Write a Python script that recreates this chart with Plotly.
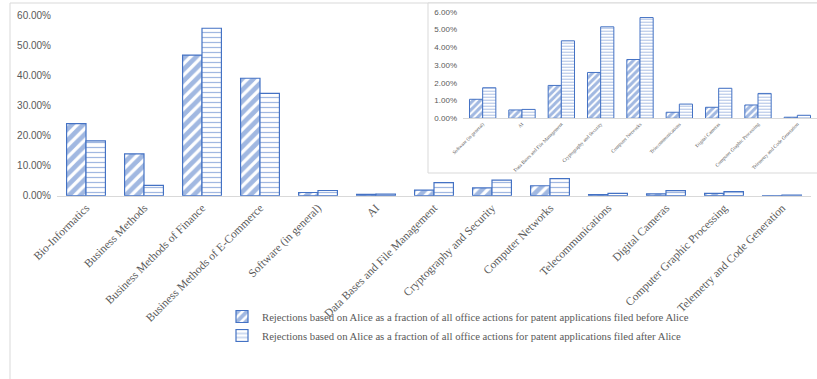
import plotly.graph_objects as go

W, H = 817, 379

categories = [
    "Bio-Informatics", "Business Methods", "Business Methods of Finance",
    "Business Methods of E-Commerce", "Software (in general)", "AI",
    "Data Bases and File Management", "Cryptography and Security",
    "Computer Networks", "Telecommunications", "Digital Cameras",
    "Computer Graphic Processing", "Telemetry and Code Generation",
]
# values in percent
before_alice = [23.9, 13.9, 46.7, 39.0, 1.07, 0.47, 1.85, 2.58, 3.31, 0.34, 0.62, 0.75, 0.06]
after_alice = [18.2, 3.45, 55.6, 34.0, 1.72, 0.50, 4.36, 5.15, 5.67, 0.80, 1.69, 1.40, 0.17]
inset_categories = categories[4:]
inset_before = before_alice[4:]
inset_after = after_alice[4:]

name_before = "Rejections based on Alice as a fraction of all office actions for patent applications filed before Alice"
name_after = "Rejections based on Alice as a fraction of all office actions for patent applications filed after Alice"

BLUE = "#4472C4"
GRAY = "#595959"
LINE = "#d9d9d9"


def px(x):
    return x / W


def py(y):
    return 1 - y / H


pat_before = dict(shape="/", fgcolor=BLUE, bgcolor="white", size=8, solidity=0.6)
pat_after = dict(shape="-", fgcolor=BLUE, bgcolor="white", size=5, solidity=0.25)

fig = go.Figure()
fig.add_trace(go.Bar(
    x=categories, y=[v / 100 for v in before_alice], name=name_before,
    marker=dict(color="white", pattern=pat_before, line=dict(color=BLUE, width=1.2)),
    xaxis="x", yaxis="y",
))
fig.add_trace(go.Bar(
    x=categories, y=[v / 100 for v in after_alice], name=name_after,
    marker=dict(color="white", pattern=pat_after, line=dict(color=BLUE, width=1.2)),
    xaxis="x", yaxis="y",
))
fig.add_trace(go.Bar(
    x=inset_categories, y=[v / 100 for v in inset_before], showlegend=False,
    marker=dict(color="white", pattern=dict(shape="/", fgcolor=BLUE, bgcolor="white", size=5, solidity=0.6),
                line=dict(color=BLUE, width=1)),
    xaxis="x2", yaxis="y2",
))
fig.add_trace(go.Bar(
    x=inset_categories, y=[v / 100 for v in inset_after], showlegend=False,
    marker=dict(color="white", pattern=dict(shape="-", fgcolor=BLUE, bgcolor="white", size=3, solidity=0.3),
                line=dict(color=BLUE, width=1)),
    xaxis="x2", yaxis="y2",
))

fig.update_layout(
    width=W, height=H,
    margin=dict(l=0, r=0, t=0, b=0, autoexpand=False),
    paper_bgcolor="white", plot_bgcolor="rgba(0,0,0,0)",
    barmode="group", bargap=0.33, bargroupgap=0,
    showlegend=True,
    legend=dict(
        x=px(222), y=py(302), xanchor="left", yanchor="top",
        orientation="v", font=dict(family="Liberation Serif", size=10.7, color=GRAY),
        bgcolor="rgba(0,0,0,0)", itemwidth=30, tracegroupgap=0,
    ),
    xaxis=dict(
        domain=[px(57), px(811)], anchor="y", type="category", automargin=False,
        tickangle=-45, tickfont=dict(family="Liberation Serif", size=11.5, color=GRAY),
        showline=True, linecolor=LINE, linewidth=1, showgrid=False, ticks="",
        zeroline=False,
    ),
    yaxis=dict(
        domain=[py(195.7), py(15)], anchor="x", range=[0, 0.6], automargin=False,
        tickvals=[0, 0.1, 0.2, 0.3, 0.4, 0.5, 0.6], tickformat=".2%",
        tickfont=dict(family="Liberation Sans", size=10, color=GRAY),
        showgrid=False, zeroline=False, showline=False, ticks="",
        ticklabelstandoff=5,
    ),
    xaxis2=dict(
        domain=[px(463), px(817)], anchor="y2", type="category", automargin=False,
        tickangle=-45, tickfont=dict(family="Liberation Serif", size=5, color=GRAY),
        showline=True, linecolor=LINE, linewidth=1, showgrid=False, ticks="",
        zeroline=False,
    ),
    yaxis2=dict(
        domain=[py(118.3), py(11.7)], anchor="x2", range=[0, 0.06], automargin=False,
        tickvals=[0, 0.01, 0.02, 0.03, 0.04, 0.05, 0.06], tickformat=".2%",
        tickfont=dict(family="Liberation Sans", size=8, color=GRAY),
        showgrid=False, zeroline=False, showline=False, ticks="",
        ticklabelstandoff=5,
    ),
    shapes=[
        # outer chart border (left and top edges visible)
        dict(type="rect", xref="paper", yref="paper", x0=px(10), x1=1.05, y0=-0.05, y1=py(3),
             line=dict(color=LINE, width=1), fillcolor="rgba(0,0,0,0)", layer="below"),
        # inset chart frame
        dict(type="rect", xref="paper", yref="paper", x0=px(428), x1=1.05, y0=py(173), y1=py(3),
             line=dict(color=LINE, width=1), fillcolor="white", layer="below"),
    ],
)

fig.write_html("out.html")
